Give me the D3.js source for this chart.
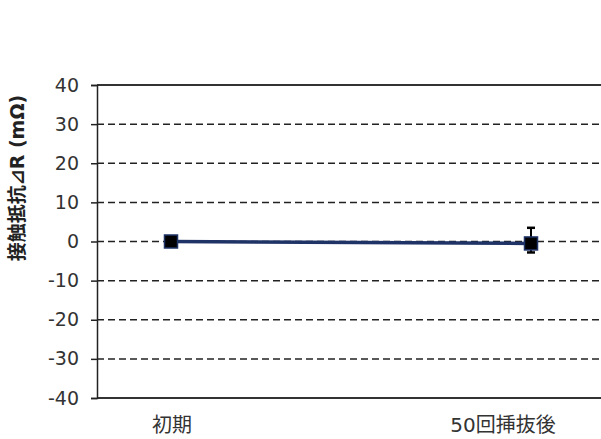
<!DOCTYPE html>
<html>
<head>
<meta charset="utf-8">
<script src="https://cdn.jsdelivr.net/npm/d3@7"></script>
<style>
  body { margin: 0; background: #fff; }
  text { font-family: "DejaVu Sans", "Noto Sans CJK JP", sans-serif; }
</style>
</head>
<body>
<script>
(function () {
  const categories = ['初期', '50回挿抜後']
  const means = [0, -0.5]
  const errPlus = [0, 4.0]
  const errMinus = [0, 2.3]
  const yTicks = [40, 30, 20, 10, 0, -10, -20, -30, -40]

  const svg = d3.select('body').append('svg')
    .attr('width', 601)
    .attr('height', 439)

  const left = 97, top = 85, bottom = 398, right = 610

  const y = d3.scaleLinear().domain([-40, 40]).range([bottom, top])
  const x = d3.scalePoint().domain(categories).range([171, 531])
  // category labels sit a little apart from the points in the original
  const xLabel = d3.scalePoint().domain(categories).range([172, 503])

  // dashed grid
  svg.selectAll('line.grid')
    .data(yTicks.filter(d => d !== 40 && d !== -40))
    .enter()
    .append('line')
    .attr('class', 'grid')
    .attr('x1', left)
    .attr('x2', right)
    .attr('y1', d => y(d))
    .attr('y2', d => y(d))
    .attr('stroke', '#222')
    .attr('stroke-width', 1.5)
    .attr('stroke-dasharray', '7,4')

  // top border and bottom axis
  svg.append('line')
    .attr('x1', left).attr('x2', right)
    .attr('y1', y(40)).attr('y2', y(40))
    .attr('stroke', '#333').attr('stroke-width', 2)
  svg.append('line')
    .attr('x1', left).attr('x2', right)
    .attr('y1', y(-40)).attr('y2', y(-40))
    .attr('stroke', '#333').attr('stroke-width', 2)

  // y axis
  const yAxis = d3.axisLeft(y)
    .tickValues(yTicks)
    .tickFormat(d => String(d))
    .tickSize(6)
    .tickPadding(12)
  const gy = svg.append('g')
    .attr('transform', `translate(${left},0)`)
    .call(yAxis)
  gy.select('.domain').attr('stroke', '#222').attr('stroke-width', 1.5)
  gy.selectAll('.tick line').attr('stroke', '#222').attr('stroke-width', 1.5)
  gy.selectAll('.tick text')
    .attr('font-size', '19px')
    .attr('fill', '#333')
    .style('font-family', '"DejaVu Sans", sans-serif')

  // y title
  svg.append('text')
    .attr('transform', `translate(24,178) rotate(-90)`)
    .attr('text-anchor', 'middle')
    .attr('font-size', '19px')
    .attr('font-weight', 'bold')
    .attr('fill', '#222')
    .text('接触抵抗⊿R (mΩ)')

  // category labels
  svg.selectAll('text.cat')
    .data(categories)
    .enter()
    .append('text')
    .attr('class', 'cat')
    .attr('x', d => xLabel(d))
    .attr('y', 432)
    .attr('text-anchor', 'middle')
    .attr('font-size', '20px')
    .attr('fill', '#333')
    .text(d => d)

  const pts = categories.map((c, i) => ({ c, m: means[i], p: errPlus[i], n: errMinus[i] }))

  // error bars
  const eb = svg.selectAll('g.err')
    .data(pts.filter(d => d.p > 0 || d.n > 0))
    .enter()
    .append('g')
    .attr('class', 'err')
  eb.append('line')
    .attr('x1', d => x(d.c)).attr('x2', d => x(d.c))
    .attr('y1', d => y(d.m + d.p)).attr('y2', d => y(d.m - d.n))
    .attr('stroke', '#000').attr('stroke-width', 2)
  eb.append('line')
    .attr('x1', d => x(d.c) - 4).attr('x2', d => x(d.c) + 4)
    .attr('y1', d => y(d.m + d.p)).attr('y2', d => y(d.m + d.p))
    .attr('stroke', '#000').attr('stroke-width', 2.5)
  eb.append('line')
    .attr('x1', d => x(d.c) - 4).attr('x2', d => x(d.c) + 4)
    .attr('y1', d => y(d.m - d.n)).attr('y2', d => y(d.m - d.n))
    .attr('stroke', '#000').attr('stroke-width', 2.5)

  // line
  const line = d3.line().x(d => x(d.c)).y(d => y(d.m))
  svg.append('path')
    .datum(pts)
    .attr('d', line)
    .attr('fill', 'none')
    .attr('stroke', '#1f3366')
    .attr('stroke-width', 3.5)

  // markers
  svg.selectAll('rect.mk')
    .data(pts)
    .enter()
    .append('rect')
    .attr('class', 'mk')
    .attr('x', d => x(d.c) - 6.5)
    .attr('y', d => y(d.m) - 6.5)
    .attr('width', 13)
    .attr('height', 13)
    .attr('fill', '#000')
    .attr('stroke', '#1f3366')
    .attr('stroke-width', 1.5)
})()
</script>
</body>
</html>
